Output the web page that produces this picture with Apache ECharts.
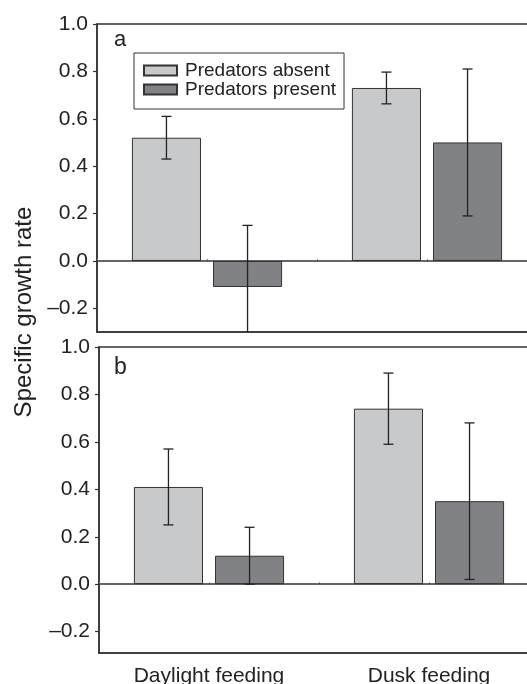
<!DOCTYPE html>
<html>
<head>
<meta charset="utf-8">
<script src="https://cdn.jsdelivr.net/npm/echarts@6/dist/echarts.min.js"></script>
<style>html,body{margin:0;padding:0;background:#fff;}#c{width:527px;height:684px;}</style>
</head>
<body>
<div id="c"></div>
<script>
const categories = ['Daylight feeding', 'Dusk feeding'];
const seriesNames = ['Predators absent', 'Predators present'];
// Panel a
const absentA = [0.52, 0.73];
const absentErrA = [0.09, 0.067];
const presentA = [-0.11, 0.50];
const presentErrA = [0.26, 0.31];
// Panel b
const absentB = [0.41, 0.74];
const absentErrB = [0.16, 0.15];
const presentB = [0.12, 0.35];
const presentErrB = [0.12, 0.33];
const yTicks = [-0.2, 0, 0.2, 0.4, 0.6, 0.8, 1.0];

const FONT = "'Liberation Sans', Arial, Helvetica, sans-serif";
const lightColor = '#c8c9cb';
const darkColor = '#818285';
const edge = '#333';

const chart = echarts.init(document.getElementById('c'), null, {renderer: 'canvas'});

function fmt(v) {
  return v < 0 ? '\u2013' + Math.abs(v).toFixed(1) : v.toFixed(1);
}

function yAxisFor(gridIndex, min) {
  return {
    type: 'value', gridIndex: gridIndex, min: min, max: 1.0,
    splitLine: {show: false},
    axisLine: {show: true, lineStyle: {color: edge, width: 1.5}},
    axisTick: {show: true, length: 4, inside: false, customValues: yTicks, lineStyle: {color: edge, width: 1.2}},
    axisLabel: {show: true, customValues: yTicks, formatter: fmt, fontFamily: FONT, fontSize: 21, color: '#222', margin: 9}
  };
}

function mainX(gridIndex, showLabel) {
  return {
    type: 'category', gridIndex: gridIndex, data: categories,
    position: 'bottom',
    axisLine: {show: true, onZero: false, lineStyle: {color: edge, width: 1.5}},
    axisTick: {show: false},
    axisLabel: {show: showLabel, fontFamily: FONT, fontSize: 21, color: '#222', margin: 13}
  };
}
function tickX(gridIndex) {
  return {
    type: 'category', gridIndex: gridIndex, data: ['', '', '', '', ''],
    boundaryGap: false, position: 'bottom',
    axisLine: {show: false},
    axisTick: {show: true, inside: true, length: 2, lineStyle: {color: '#888', width: 1}},
    axisLabel: {show: false}
  };
}

function barSeries(name, values, xi, yi, color, withZero) {
  const s = {
    type: 'bar', name: name, xAxisIndex: xi, yAxisIndex: yi,
    data: values, barWidth: '31.4%', barGap: '17.4%',
    itemStyle: {color: color, borderColor: edge, borderWidth: 1},
    emphasis: {disabled: true}, silent: true, z: 2
  };
  if (withZero) {
    s.markLine = {
      silent: true, symbol: 'none', label: {show: false},
      lineStyle: {color: edge, width: 1.5, type: 'solid'},
      data: [{yAxis: 0}], animation: false
    };
  }
  return s;
}

function errSeries(values, errs, xi, yi, sign) {
  return {
    type: 'custom', xAxisIndex: xi, yAxisIndex: yi, clip: true, silent: true, z: 5,
    data: values.map((v, i) => [i, v, errs[i]]),
    encode: {x: 0, y: 1},
    renderItem: function (params, api) {
      const idx = api.value(0), m = api.value(1), e = api.value(2);
      const band = api.size([1, 0])[0];
      const off = sign * band * 0.1843;
      const top = api.coord([idx, m + e]);
      const bot = api.coord([idx, m - e]);
      const x = top[0] + off;
      const cap = 5;
      const st = {stroke: '#222', lineWidth: 1.3};
      return {
        type: 'group',
        children: [
          {type: 'line', shape: {x1: x, y1: top[1], x2: x, y2: bot[1]}, style: st},
          {type: 'line', shape: {x1: x - cap, y1: top[1], x2: x + cap, y2: top[1]}, style: st},
          {type: 'line', shape: {x1: x - cap, y1: bot[1], x2: x + cap, y2: bot[1]}, style: st}
        ]
      };
    }
  };
}

const option = {
  animation: false,
  backgroundColor: '#fff',
  grid: [
    {left: 97, top: 24, width: 440, height: 308, show: true, borderColor: edge, borderWidth: 1.5, backgroundColor: 'transparent', containLabel: false, outerBoundsMode: 'none'},
    {left: 99, top: 347, width: 440, height: 306, show: true, borderColor: edge, borderWidth: 1.5, backgroundColor: 'transparent', containLabel: false, outerBoundsMode: 'none'}
  ],
  xAxis: [mainX(0, false), mainX(1, true), tickX(0), tickX(1)],
  yAxis: [yAxisFor(0, -0.3), yAxisFor(1, -0.29)],
  legend: {
    show: true, orient: 'vertical', left: 134, top: 53,
    data: seriesNames,
    backgroundColor: '#fff',
    borderColor: edge, borderWidth: 1, borderRadius: 0,
    padding: [8, 8, 10, 9],
    itemWidth: 33, itemHeight: 10, itemGap: 0,
    icon: 'rect',
    selectedMode: false,
    textStyle: {fontFamily: FONT, fontSize: 19, lineHeight: 18, color: '#222', padding: [0, 0, 0, 3]}
  },
  graphic: [
    {type: 'text', left: 114, top: 29, style: {text: 'a', font: '22px ' + FONT, fill: '#222'}},
    {type: 'text', left: 114, top: 356, style: {text: 'b', font: '23px ' + FONT, fill: '#222'}},
    {type: 'text', x: 24, y: 312, rotation: Math.PI / 2,
      style: {text: 'Specific growth rate', font: '24px ' + FONT, fill: '#222', align: 'center', verticalAlign: 'middle'}}
  ],
  series: [
    barSeries(seriesNames[0], absentA, 0, 0, lightColor, true),
    barSeries(seriesNames[1], presentA, 0, 0, darkColor, false),
    barSeries(seriesNames[0], absentB, 1, 1, lightColor, true),
    barSeries(seriesNames[1], presentB, 1, 1, darkColor, false),
    errSeries(absentA, absentErrA, 0, 0, -1),
    errSeries(presentA, presentErrA, 0, 0, 1),
    errSeries(absentB, absentErrB, 1, 1, -1),
    errSeries(presentB, presentErrB, 1, 1, 1)
  ]
};
chart.setOption(option);
</script>
</body>
</html>
